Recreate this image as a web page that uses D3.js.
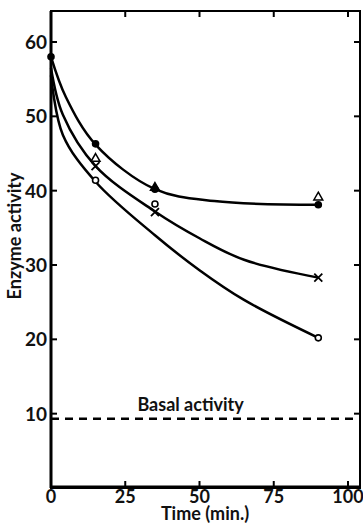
<!DOCTYPE html>
<html>
<head>
<meta charset="utf-8">
<script src="https://cdn.jsdelivr.net/npm/d3@7"></script>
<style>
  body { margin: 0; background: #fff; }
  svg text { font-family: Lato, "DejaVu Sans", sans-serif; fill: #111; }
</style>
</head>
<body>
<svg id="chart" width="363" height="532"></svg>
<script>
// measured points, time in min
var filledDots = [[0, 58], [15, 46.3], [35, 40.2], [90, 38.1]];
var triangles = [[15, 44.3], [35, 40.4], [90, 39.1]];
var crosses = [[15, 43.3], [35, 37.1], [90, 28.3]];
var openDots = [[15, 41.4], [35, 38.2], [90, 20.2]];

// hand drawn curves, knots
var curveTop = [[0, 58], [5, 52.6], [15, 46.2], [35, 40.2], [55, 38.6], [90, 38.1]];
var curveMid = [[0, 56.5], [4, 50.2], [15, 43.3], [35, 37.2], [50, 33.6], [65, 30.7], [90, 28.3]];
var curveLow = [[0, 55.5], [4, 47.5], [15, 41.2], [35, 34], [50, 29.3], [65, 25.3], [90, 20.2]];

var basal = 9.3;
var xTicks = [0, 25, 50, 75, 100];
var yTicks = [10, 20, 30, 40, 50, 60];

var svg = d3.select("#chart");
var mLeft = 51, mRight = 360, mTop = 11, mBottom = 488;

var x = d3.scaleLinear().domain([0, 100]).range([mLeft, 348]);
var y = d3.scaleLinear().domain([0, 60]).range([mBottom, 42]);

// frame
svg.append("path")
  .attr("d", "M" + mLeft + "," + mTop + "H" + mRight + "V" + mBottom + "H" + mLeft + "Z")
  .attr("fill", "none").attr("stroke", "#000").attr("stroke-width", 2);
svg.append("line").attr("x1", mLeft).attr("x2", mLeft).attr("y1", mTop).attr("y2", mBottom)
  .attr("stroke", "#000").attr("stroke-width", 3);
svg.append("line").attr("x1", mLeft).attr("x2", mRight).attr("y1", mBottom - 1).attr("y2", mBottom - 1)
  .attr("stroke", "#000").attr("stroke-width", 3);

// ticks (inward on all four sides)
var tk = svg.append("g").attr("stroke", "#000").attr("stroke-width", 2);
xTicks.slice(1).forEach(function (t) {
  tk.append("line").attr("x1", x(t)).attr("x2", x(t)).attr("y1", mBottom).attr("y2", mBottom - 7);
  tk.append("line").attr("x1", x(t)).attr("x2", x(t)).attr("y1", mTop).attr("y2", mTop + 6);
});
yTicks.forEach(function (t) {
  tk.append("line").attr("x1", mLeft).attr("x2", mLeft + 6).attr("y1", y(t)).attr("y2", y(t));
  tk.append("line").attr("x1", mRight).attr("x2", mRight - 6).attr("y1", y(t)).attr("y2", y(t));
});

// tick labels
svg.append("g").selectAll("text").data(xTicks).enter().append("text")
  .attr("x", function (d) { return x(d); })
  .attr("y", 503)
  .attr("text-anchor", "middle")
  .attr("font-size", 18).attr("font-weight", 700)
  .text(function (d) { return d; });
svg.append("g").selectAll("text").data(yTicks).enter().append("text")
  .attr("x", 47)
  .attr("y", function (d) { return y(d) + 7; })
  .attr("text-anchor", "end")
  .attr("font-size", 19).attr("font-weight", 700)
  .text(function (d) { return d; });

svg.append("text").attr("x", 205).attr("y", 520).attr("text-anchor", "middle")
  .attr("font-size", 18).attr("font-weight", 700).text("Time (min.)");
svg.append("text").attr("transform", "translate(21,236) rotate(-90)").attr("text-anchor", "middle")
  .attr("font-size", 18).attr("font-weight", 700).text("Enzyme activity");

// basal activity
svg.append("line").attr("x1", mLeft).attr("x2", mRight).attr("y1", y(basal)).attr("y2", y(basal))
  .attr("stroke", "#000").attr("stroke-width", 2.5).attr("stroke-dasharray", "8,6");
svg.append("text").attr("x", x(47)).attr("y", y(basal) - 8).attr("text-anchor", "middle")
  .attr("font-size", 18).attr("font-weight", 700).text("Basal activity");

// curves
var line = d3.line().x(function (d) { return x(d[0]); }).y(function (d) { return y(d[1]); })
  .curve(d3.curveCatmullRom.alpha(0.5));
[curveTop, curveMid, curveLow].forEach(function (c) {
  svg.append("path").datum(c).attr("d", line)
    .attr("fill", "none").attr("stroke", "#000").attr("stroke-width", 2.5);
});

// markers
svg.append("g").selectAll("circle").data(filledDots).enter().append("circle")
  .attr("cx", function (d) { return x(d[0]); }).attr("cy", function (d) { return y(d[1]); })
  .attr("r", 3.8).attr("fill", "#000");
svg.append("g").selectAll("circle").data(openDots).enter().append("circle")
  .attr("cx", function (d) { return x(d[0]); }).attr("cy", function (d) { return y(d[1]); })
  .attr("r", 3).attr("fill", "#fff").attr("stroke", "#000").attr("stroke-width", 1.6);
svg.append("g").selectAll("path").data(crosses).enter().append("path")
  .attr("d", function (d) {
    var cx = x(d[0]), cy = y(d[1]), s = 4;
    return "M" + (cx - s) + "," + (cy - s) + "L" + (cx + s) + "," + (cy + s) +
      "M" + (cx - s) + "," + (cy + s) + "L" + (cx + s) + "," + (cy - s);
  })
  .attr("stroke", "#000").attr("stroke-width", 1.8);
svg.append("g").selectAll("path").data(triangles).enter().append("path")
  .attr("d", d3.symbol().type(d3.symbolTriangle).size(34))
  .attr("transform", function (d) { return "translate(" + x(d[0]) + "," + y(d[1]) + ")"; })
  .attr("fill", function (d, i) { return i == 1 ? "#000" : "#fff"; })
  .attr("stroke", "#000").attr("stroke-width", 1.5);
</script>
</body>
</html>
